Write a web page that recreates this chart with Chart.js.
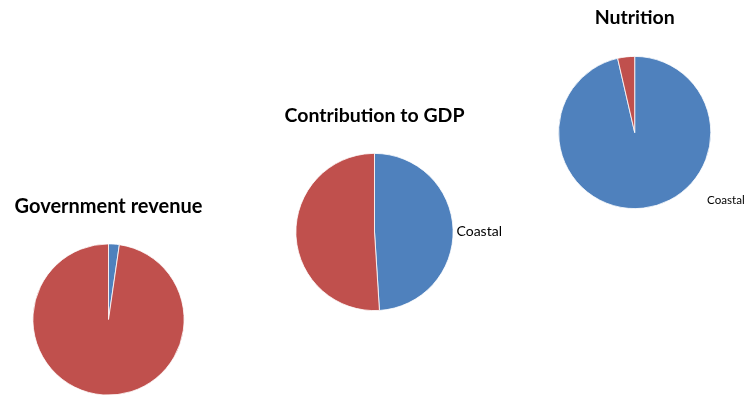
<!DOCTYPE html>
<html>
<head>
<meta charset="utf-8">
<script src="https://cdn.jsdelivr.net/npm/chart.js@4/dist/chart.umd.min.js"></script>
<style>
  html, body { margin: 0; padding: 0; background: #fff; }
  #wrap { position: relative; width: 744px; height: 396px; overflow: hidden; }
  #wrap canvas { position: absolute; left: 0; top: 0; }
</style>
</head>
<body>
<div id="wrap">
  <canvas id="pie0" width="744" height="396"></canvas>
  <canvas id="pie1" width="744" height="396"></canvas>
  <canvas id="pie2" width="744" height="396"></canvas>
</div>
<script>
// shares (%) per indicator, coastal vs the rest
const titles = ['Government revenue', 'Contribution to GDP', 'Nutrition'];
const categories = ['Coastal', 'Non-coastal'];
const coastal = [2.3, 49.0, 96.4];
const nonCoastal = [97.7, 51.0, 3.6];
const showCoastalLabel = [false, true, true];

// where each pie sits on the page
const layout = [
  { cx: 108.5, cy: 319.5, r: 76,   titleY: 213,   titleSize: 20,   label: null },
  { cx: 374.5, cy: 232,   r: 79,   titleY: 121.5, titleSize: 19.5, label: { x: 456.5, y: 235.5, size: 14 } },
  { cx: 634.7, cy: 132.5, r: 76.5, titleY: 24,    titleSize: 19.5, label: { x: 707, y: 204, size: 11.6 } }
];

const colors = ['#4F81BD', '#C0504D'];
const W = 744, H = 396;

// titles and the category label, drawn after the pie
const annotate = {
  id: 'annotate',
  afterDraw(chart, args, opts) {
    const ctx = chart.ctx;
    const arc = chart.getDatasetMeta(0).data[0];
    ctx.save();
    ctx.fillStyle = '#000';
    ctx.font = 'bold ' + opts.titleSize + 'px Lato, "Open Sans", sans-serif';
    ctx.textAlign = 'center';
    ctx.textBaseline = 'alphabetic';
    ctx.fillText(opts.title, arc.x, opts.titleY);
    if (opts.label) {
      ctx.font = opts.label.size + 'px Lato, "Open Sans", sans-serif';
      ctx.textAlign = 'left';
      ctx.fillText(chart.data.labels[0], opts.label.x, opts.label.y);
    }
    ctx.restore();
  }
};

titles.forEach((title, i) => {
  const L = layout[i];
  new Chart(document.getElementById('pie' + i), {
    type: 'pie',
    data: {
      labels: categories,
      datasets: [{
        data: [coastal[i], nonCoastal[i]],
        backgroundColor: colors,
        borderColor: '#ffffff',
        borderWidth: 0.8
      }]
    },
    options: {
      responsive: false,
      animation: false,
      events: [],
      layout: {
        padding: {
          left: L.cx - L.r,
          top: L.cy - L.r,
          right: W - (L.cx + L.r),
          bottom: H - (L.cy + L.r)
        }
      },
      plugins: {
        legend: { display: false },
        tooltip: { enabled: false },
        annotate: {
          title: title,
          titleY: L.titleY,
          titleSize: L.titleSize,
          label: showCoastalLabel[i] ? L.label : null
        }
      }
    },
    plugins: [annotate]
  });
});
</script>
</body>
</html>
